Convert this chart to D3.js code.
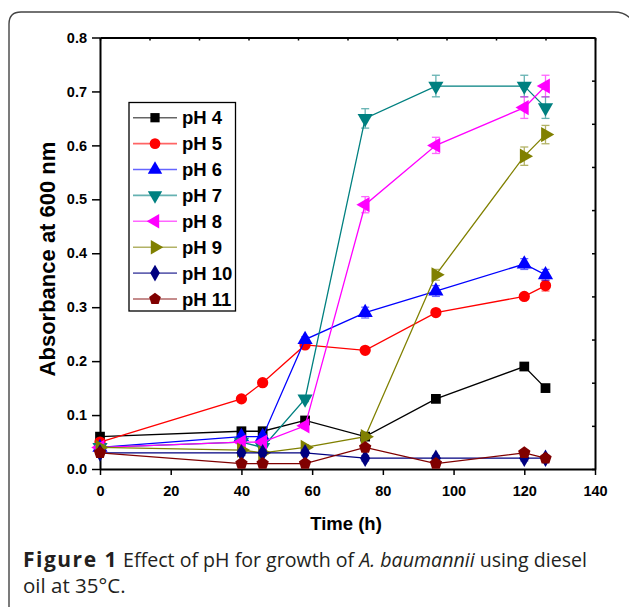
<!DOCTYPE html>
<html><head><meta charset="utf-8">
<script src="https://cdn.jsdelivr.net/npm/d3@7"></script>
<style>body{margin:0;background:#fff} svg{display:block}</style>
</head><body><svg id="c" width="629" height="607"></svg>
<script>
const times = [0, 40, 46, 58, 75, 95, 120, 126];
const seriesNames = ["pH 4", "pH 5", "pH 6", "pH 7", "pH 8", "pH 9", "pH 10", "pH 11"];
const pH4  = [0.06, 0.07, 0.07, 0.09, 0.06, 0.13, 0.19, 0.15];
const pH5  = [0.05, 0.13, 0.16, 0.23, 0.22, 0.29, 0.32, 0.34];
const pH6  = [0.04, 0.06, 0.06, 0.24, 0.29, 0.33, 0.38, 0.36];
const pH7  = [0.04, 0.05, 0.04, 0.13, 0.65, 0.71, 0.71, 0.67];
const pH8  = [0.04, 0.05, 0.05, 0.08, 0.49, 0.60, 0.67, 0.71];
const pH9  = [0.04, 0.035, 0.03, 0.04, 0.06, 0.36, 0.58, 0.62];
const pH10 = [0.03, 0.03, 0.03, 0.03, 0.02, 0.02, 0.02, 0.02];
const pH11 = [0.03, 0.01, 0.01, 0.01, 0.04, 0.01, 0.03, 0.02];
const err4  = [0.005, 0.005, 0.005, 0.005, 0.005, 0.005, 0.005, 0.005];
const err5  = [0.005, 0.005, 0.005, 0.005, 0.005, 0.005, 0.005, 0.01];
const err6  = [0.005, 0.005, 0.005, 0.005, 0.01, 0.01, 0.01, 0.01];
const err7  = [0.005, 0.005, 0.005, 0.005, 0.018, 0.02, 0.02, 0.02];
const err8  = [0.005, 0.005, 0.005, 0.005, 0.015, 0.015, 0.02, 0.02];
const err9  = [0.005, 0.005, 0.005, 0.005, 0.005, 0.01, 0.017, 0.017];
const err10 = [0.005, 0.005, 0.005, 0.005, 0.005, 0.005, 0.005, 0.005];
const err11 = [0.005, 0.005, 0.005, 0.005, 0.005, 0.005, 0.005, 0.005];
const xTicks = [0, 20, 40, 60, 80, 100, 120, 140];
const yTicks = [0.0, 0.1, 0.2, 0.3, 0.4, 0.5, 0.6, 0.7, 0.8];
const colors = ["#000000", "#ff0000", "#0000ff", "#008080", "#ff00ff", "#808000", "#000080", "#800000"];

const allVals = [pH4, pH5, pH6, pH7, pH8, pH9, pH10, pH11];
const allErrs = [err4, err5, err6, err7, err8, err9, err10, err11];

const svg = d3.select("#c");
const L = 100, R = 595, T = 37.5, B = 469;
const x = d3.scaleLinear().domain([0, 140]).range([L, R]);
const y = d3.scaleLinear().domain([0, 0.8]).range([B, T]);

// outer rounded frame
svg.append("path")
  .attr("d", `M9,640 L9,24 Q9,12 21,12 L614,12 Q624,12 630,18`)
  .attr("fill", "none").attr("stroke", "#444").attr("stroke-width", 1.4);

// pentagon symbol
const symbolPentagon = {
  draw(ctx, size) {
    const r = Math.sqrt(size / (2.5 * Math.sin(2 * Math.PI / 5)));
    for (let i = 0; i < 5; i++) {
      const a = -Math.PI / 2 + i * 2 * Math.PI / 5;
      const px = r * Math.cos(a), py = r * Math.sin(a);
      if (i === 0) ctx.moveTo(px, py); else ctx.lineTo(px, py);
    }
    ctx.closePath();
  }
};
const symDefs = [
  {type: d3.symbolSquare, size: 95, rot: 0},
  {type: d3.symbolCircle, size: 100, rot: 0},
  {type: d3.symbolTriangle, size: 100, rot: 0},
  {type: d3.symbolTriangle, size: 100, rot: 180},
  {type: d3.symbolTriangle, size: 100, rot: -90},
  {type: d3.symbolTriangle, size: 100, rot: 90},
  {type: d3.symbolDiamond, size: 90, rot: 0},
  {type: symbolPentagon, size: 100, rot: 0}
];

const axisFont = "'Liberation Sans', Arial, sans-serif";

// axes
const gL = svg.append("g").attr("transform", `translate(${L},0)`)
  .call(d3.axisLeft(y).tickValues(yTicks).tickSize(8).tickSizeOuter(0).tickFormat(d3.format(".1f")));
const gB = svg.append("g").attr("transform", `translate(0,${B})`)
  .call(d3.axisBottom(x).tickValues(xTicks).tickSize(6).tickSizeOuter(0).tickFormat(d3.format("d")));
const gT = svg.append("g").attr("transform", `translate(0,${T})`)
  .call(d3.axisTop(x).tickValues(d3.range(0, 141, 14)).tickSize(-3).tickSizeOuter(0).tickFormat(""));
const gR = svg.append("g").attr("transform", `translate(${R},0)`)
  .call(d3.axisRight(y).tickValues(d3.range(0, 0.81, 0.08)).tickSize(-3).tickSizeOuter(0).tickFormat(""));
[gL, gB, gT, gR].forEach(g => {
  g.attr("font-family", axisFont).attr("font-size", 14.5);
  g.select(".domain").attr("stroke", "#000").attr("stroke-width", 2);
  g.selectAll(".tick line").attr("stroke", "#000").attr("stroke-width", 1.5);
  g.selectAll(".tick text").attr("font-family", axisFont).attr("font-weight", "bold")
    .attr("font-size", 14.5).attr("fill", "#000");
});
gL.selectAll(".tick text").attr("x", -13);
gB.selectAll(".tick text").attr("y", 17);

// axis titles
svg.append("text").attr("x", 346).attr("y", 530).attr("text-anchor", "middle")
  .attr("font-family", axisFont).attr("font-weight", "bold").attr("font-size", 18.5)
  .text("Time (h)");
svg.append("text").attr("transform", `translate(54.5,259) rotate(-90)`)
  .attr("text-anchor", "middle")
  .attr("font-family", axisFont).attr("font-weight", "bold").attr("font-size", 22)
  .text("Absorbance at 600 nm");

// series
const line = d3.line().x(d => x(d.t)).y(d => y(d.v));
allVals.forEach((vals, i) => {
  const data = times.map((t, j) => ({t, v: vals[j], e: allErrs[i][j]}));
  const g = svg.append("g");
  g.append("path").datum(data).attr("d", line).attr("fill", "none")
    .attr("stroke", colors[i]).attr("stroke-width", 1.3);
  const eb = g.selectAll(".eb").data(data).enter().append("g").attr("opacity", 0.6)
    .attr("stroke", colors[i]).attr("stroke-width", 1.3);
  eb.append("line").attr("x1", d => x(d.t)).attr("x2", d => x(d.t))
    .attr("y1", d => y(d.v - d.e)).attr("y2", d => y(d.v + d.e));
  eb.append("line").attr("x1", d => x(d.t) - 4).attr("x2", d => x(d.t) + 4)
    .attr("y1", d => y(d.v + d.e)).attr("y2", d => y(d.v + d.e));
  eb.append("line").attr("x1", d => x(d.t) - 4).attr("x2", d => x(d.t) + 4)
    .attr("y1", d => y(d.v - d.e)).attr("y2", d => y(d.v - d.e));
  const sd = symDefs[i];
  g.selectAll(".m").data(data).enter().append("path")
    .attr("d", d3.symbol().type(sd.type).size(sd.size))
    .attr("transform", d => `translate(${x(d.t)},${y(d.v)}) rotate(${sd.rot})`)
    .attr("fill", colors[i]);
});

// legend
const lg = svg.append("g");
lg.append("rect").attr("x", 129).attr("y", 102.5).attr("width", 106.5).attr("height", 208.5)
  .attr("fill", "#fff").attr("stroke", "#000").attr("stroke-width", 1.3);
seriesNames.forEach((name, i) => {
  const cy = 117.7 + i * 25.9;
  lg.append("line").attr("x1", 133).attr("x2", 177).attr("y1", cy).attr("y2", cy)
    .attr("stroke", colors[i]).attr("stroke-width", 1.6).attr("opacity", 0.6);
  const sd = symDefs[i];
  lg.append("path").attr("d", d3.symbol().type(sd.type).size(sd.size * 0.9))
    .attr("transform", `translate(155,${cy}) rotate(${sd.rot})`).attr("fill", colors[i]);
  lg.append("text").attr("x", 182).attr("y", cy + 6.6).attr("font-family", axisFont)
    .attr("font-weight", "bold").attr("font-size", 18.5).attr("fill", "#000").text(name);
});

// caption
const capFont = "'Open Sans', 'Noto Sans', sans-serif";
const cap = svg.append("text").attr("x", 23).attr("y", 567).attr("font-family", capFont)
  .attr("font-size", 19.6).attr("fill", "#231f20");
cap.append("tspan").attr("font-weight", "bold").attr("font-size", 21).attr("letter-spacing", 1.5).text("Figure 1");
cap.append("tspan").text(" Effect of pH for growth of ");
cap.append("tspan").attr("font-style", "italic").text("A. baumannii");
cap.append("tspan").text(" using diesel");
svg.append("text").attr("x", 23).attr("y", 593).attr("font-family", capFont)
  .attr("font-size", 20.5).attr("fill", "#231f20").text("oil at 35°C.");
</script></body></html>
